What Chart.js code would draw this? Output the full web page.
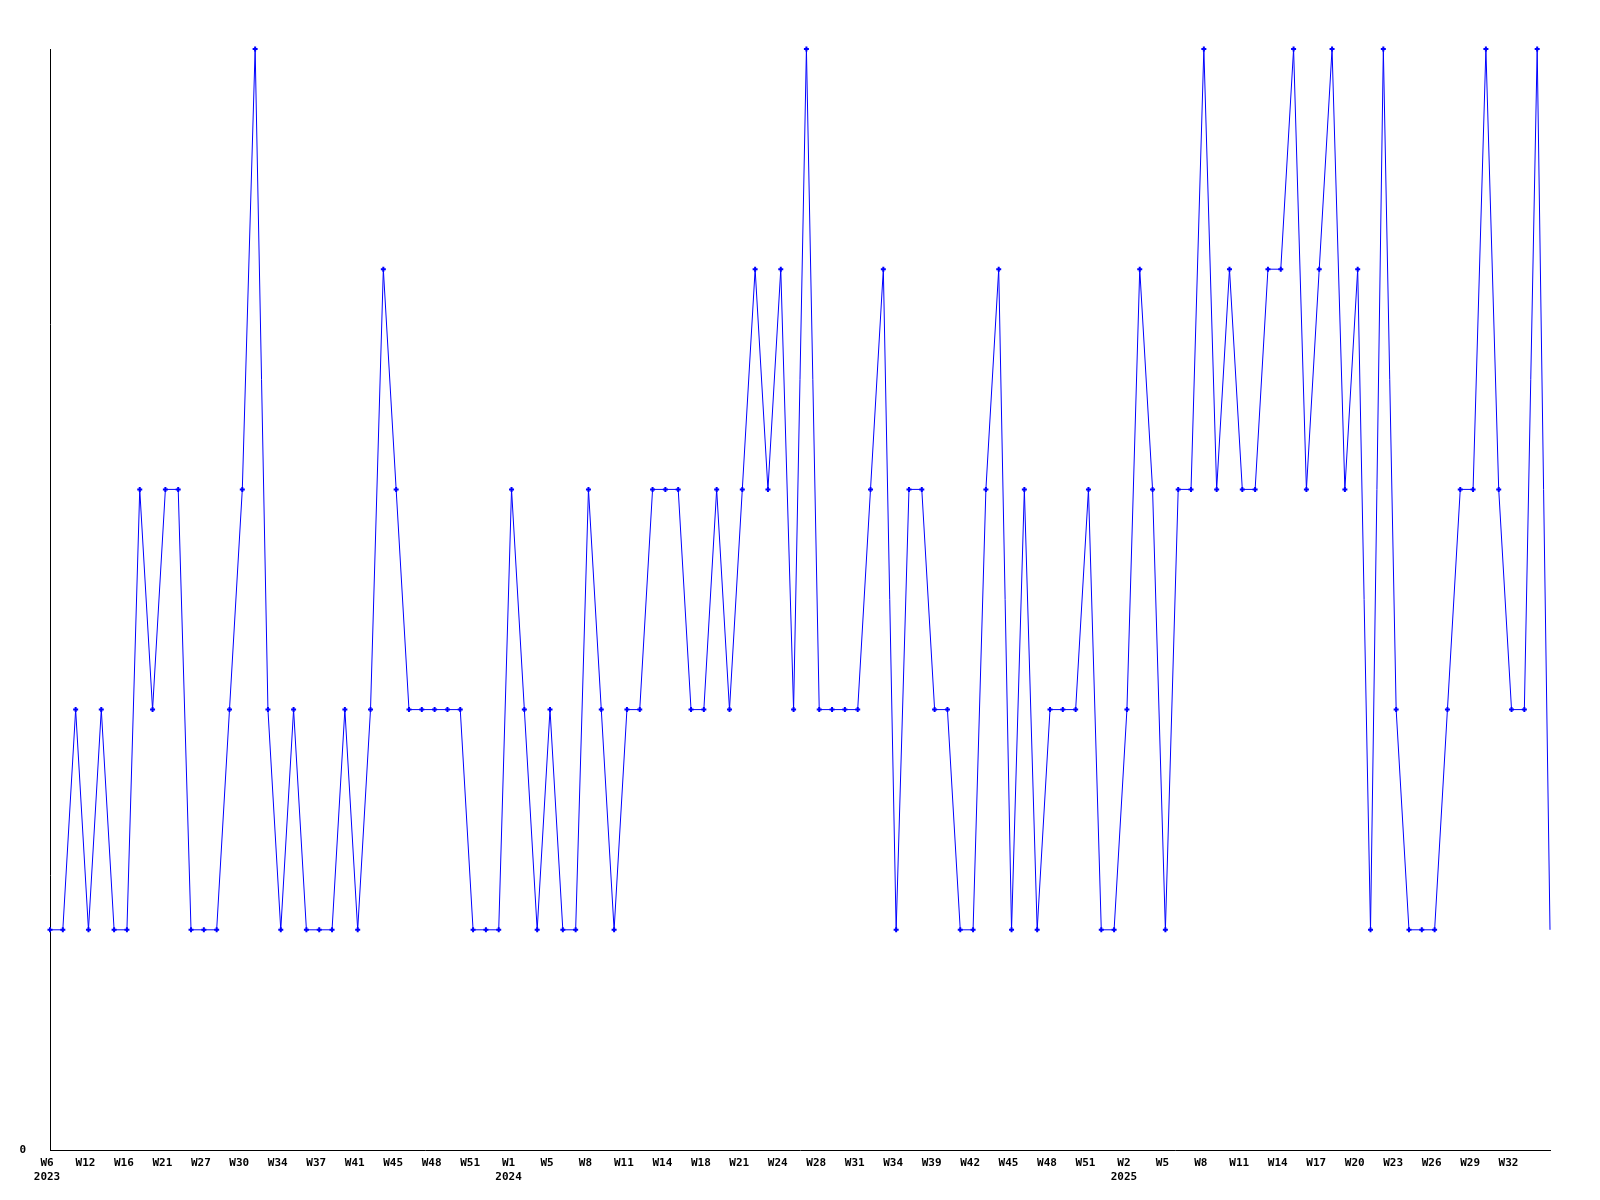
<!DOCTYPE html>
<html>
<head>
<meta charset="utf-8">
<script src="https://cdn.jsdelivr.net/npm/chart.js@4/dist/chart.umd.min.js"></script>
<style>
  body { margin: 0; background: #fff; }
  canvas { display: block; }
</style>
</head>
<body>
<canvas id="weeklyChart" width="1600" height="1200"></canvas>
<script>
// values per point (one point per recorded week)
const values = [
  1, 1, 2, 1, 2, 1, 1, 3, 2, 3,
  3, 1, 1, 1, 2, 3, 5, 2, 1, 2,
  1, 1, 1, 2, 1, 2, 4, 3, 2, 2,
  2, 2, 2, 1, 1, 1, 3, 2, 1, 2,
  1, 1, 3, 2, 1, 2, 2, 3, 3, 3,
  2, 2, 3, 2, 3, 4, 3, 4, 2, 5,
  2, 2, 2, 2, 3, 4, 1, 3, 3, 2,
  2, 1, 1, 3, 4, 1, 3, 1, 2, 2,
  2, 3, 1, 1, 2, 4, 3, 1, 3, 3,
  5, 3, 4, 3, 3, 4, 4, 5, 3, 4,
  5, 3, 4, 1, 5, 2, 1, 1, 1, 2,
  3, 3, 5, 3, 2, 2, 5, 1
];

// week labels shown on the x axis, one every third point
const weekTicks = [
  'W6', 'W12', 'W16', 'W21', 'W27', 'W30', 'W34', 'W37', 'W41', 'W45', 'W48', 'W51',
  'W1', 'W5', 'W8', 'W11', 'W14', 'W18', 'W21', 'W24', 'W28', 'W31', 'W34', 'W39', 'W42', 'W45', 'W48', 'W51',
  'W2', 'W5', 'W8', 'W11', 'W14', 'W17', 'W20', 'W23', 'W26', 'W29', 'W32'
];

// year printed under the first week tick of that year
const yearTicks = ['2023', '2024', '2025'];
const yearTickIndex = [0, 12, 28];

const tickEvery = 3;

const labels = values.map((v, i) => {
  if (i % tickEvery !== 0) return '';
  const t = i / tickEvery;
  if (t >= weekTicks.length) return '';
  const y = yearTickIndex.indexOf(t);
  return y >= 0 ? [weekTicks[t], yearTicks[y]] : weekTicks[t];
});

const font = { family: 'DejaVu Sans Mono', size: 11, weight: 'bold', lineHeight: 1.3 };

const ctx = document.getElementById('weeklyChart').getContext('2d');
const chart = new Chart(ctx, {
  type: 'line',
  data: {
    labels: labels,
    datasets: [{
      data: values,
      borderColor: '#0000ff',
      backgroundColor: '#0000ff',
      borderWidth: 1,
      tension: 0,
      clip: false,
      pointStyle: 'cross',
      pointRadius: values.map((v, i) => i === values.length - 1 ? 0 : 2.5),
      pointBorderWidth: 2,
      pointBorderColor: '#0000ff'
    }]
  },
  options: {
    responsive: false,
    animation: false,
    layout: { padding: { top: 49, right: 50, bottom: 0, left: 0 } },
    plugins: {
      legend: { display: false },
      tooltip: { enabled: false }
    },
    scales: {
      x: {
        grid: { display: false, drawTicks: false },
        border: { display: true, color: '#000', width: 1 },
        ticks: {
          autoSkip: false,
          maxRotation: 0,
          minRotation: 0,
          padding: 6,
          labelOffset: -3,
          color: '#000',
          font: font
        },
        afterFit: (axis) => { axis.height = 50; }
      },
      y: {
        min: 0,
        max: 5,
        grid: { display: false, drawTicks: false },
        border: { display: true, color: '#000', width: 1 },
        ticks: {
          stepSize: 1,
          padding: 24,
          color: '#000',
          font: font,
          callback: (v) => v === 0 ? '0' : ''
        },
        afterFit: (axis) => { axis.width = 50; }
      }
    }
  }
});
</script>
</body>
</html>
